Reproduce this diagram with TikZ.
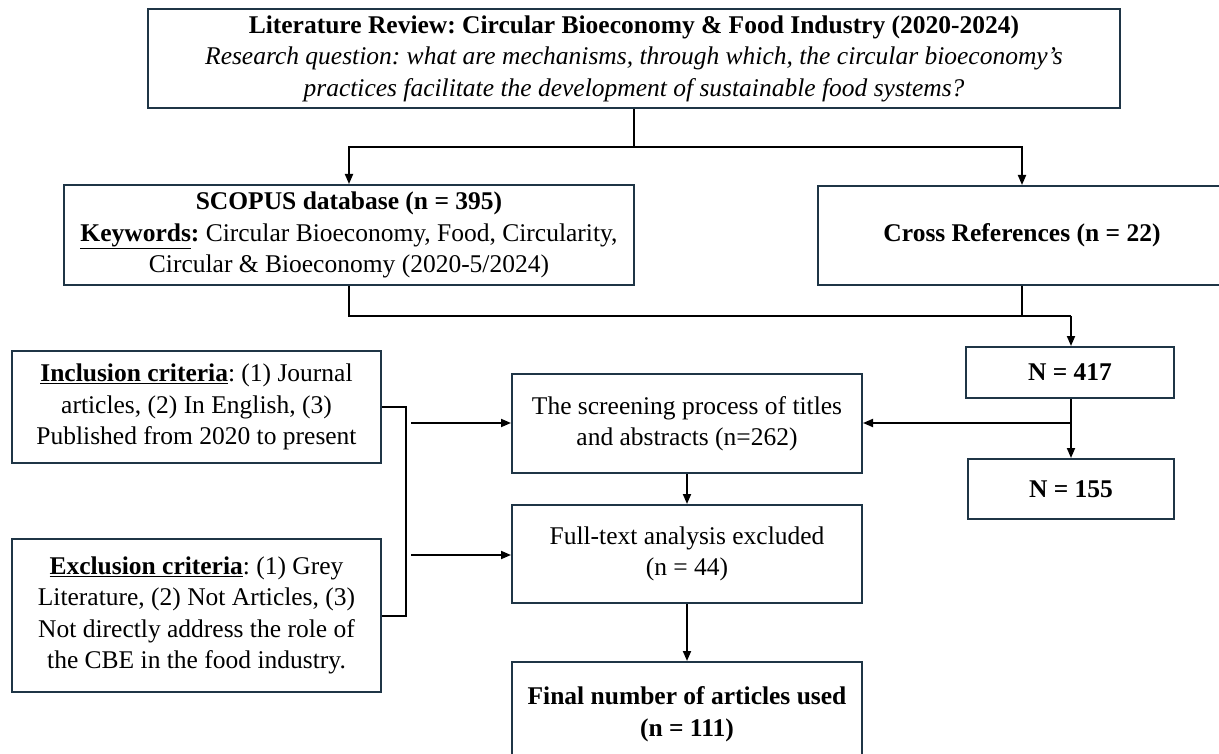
\documentclass[tikz,border=0pt]{standalone}
\usepackage{fontspec}
\setmainfont{Liberation Serif}
\usetikzlibrary{arrows.meta}
\frenchspacing
\definecolor{boxline}{HTML}{1F3546}
\tikzset{
  x=1pt, y=-1pt,
  box/.style={draw=boxline, line width=2pt, rectangle, align=center, inner sep=0pt,
    font=\fontsize{25.5}{31.5}\selectfont},
  conn/.style={draw=black, line width=1.8pt},
  arr/.style={conn, -{Triangle[length=10pt,width=8pt]}},
}
\begin{document}
\begin{tikzpicture}
\useasboundingbox (0,0) rectangle (1219,754);
\clip (0,0) rectangle (1219,754);
\fill[white] (0,0) rectangle (1219,754);

\node[box, minimum width=972pt, minimum height=99pt] (top) at (634,58.5)
  {\textbf{Literature Review: Circular Bioeconomy \& Food Industry (2020-2024)}\\
   \textit{Research question: what are mechanisms, through which, the circular bioeconomy’s}\\
   \textit{practices facilitate the development of sustainable food systems?}};

\node[box, minimum width=570pt, minimum height=100pt] (scopus) at (349,235)
  {\textbf{SCOPUS database (n = 395)}\\
   \textbf{\underline{Keywords}:} Circular Bioeconomy, Food, Circularity,\\
   Circular \& Bioeconomy (2020-5/2024)};

\node[box, minimum width=408pt, minimum height=99pt] (cross) at (1022,235.5)
  {\textbf{Cross References (n = 22)}};

\node[box, minimum width=208pt, minimum height=51pt] (n417) at (1070,372.5)
  {\textbf{N = 417}};

\node[box, minimum width=206pt, minimum height=60pt] (n155) at (1071,489)
  {\textbf{N = 155}};

\node[box, minimum width=350pt, minimum height=99pt] (screen) at (687,423.5)
  {The screening process of titles\\ and abstracts (n=262)};

\node[box, minimum width=350pt, minimum height=98pt] (full) at (687,554)
  {Full-text analysis excluded\\ (n = 44)};

\node[box, minimum width=350pt, minimum height=104pt] (final) at (687,714)
  {\textbf{Final number of articles used}\\ \textbf{(n = 111)}};

\node[box, minimum width=369pt, minimum height=112pt] (incl) at (196.5,407)
  {\underline{\textbf{Inclusion criteria}}: (1) Journal\\
   articles, (2) In English, (3)\\
   Published from 2020 to present};

\node[box, minimum width=369pt, minimum height=153pt] (excl) at (196.5,615.5)
  {\underline{\textbf{Exclusion criteria}}: (1) Grey\\
   Literature, (2) Not Articles, (3)\\
   Not directly address the role of\\
   the CBE in the food industry.};

% connectors from top
\coordinate (split1) at (634,147);
\draw[conn] (top.south) -- (split1);
\draw[arr] (split1) -| (scopus.north);
\draw[arr] (split1) -| (cross.north);

% merge to N=417
\coordinate (merge) at (1071,316);
\draw[conn] (scopus.south) |- (merge);
\draw[conn] (cross.south) -- (cross.south |- merge);
\draw[arr] (merge) -- (merge |- n417.north);

% N=417 to N=155 and screening
\coordinate (branch) at (1071,423);
\draw[arr] (n417.south -| branch) -- (branch |- n155.north);
\draw[arr] (branch) -- (screen.east |- branch);

% bracket
\coordinate (bk) at (406,407);
\draw[conn] (incl.east |- bk) -- (bk) -- (406,616) -- (excl.east |- 0,616);
\coordinate (a1) at (411,423);
\coordinate (a2) at (411,555);
\draw[arr] (a1) -- (screen.west |- a1);
\draw[arr] (a2) -- (full.west |- a2);

% central column
\draw[arr] (screen.south) -- (full.north);
\draw[arr] (full.south) -- (final.north);
\end{tikzpicture}
\end{document}
